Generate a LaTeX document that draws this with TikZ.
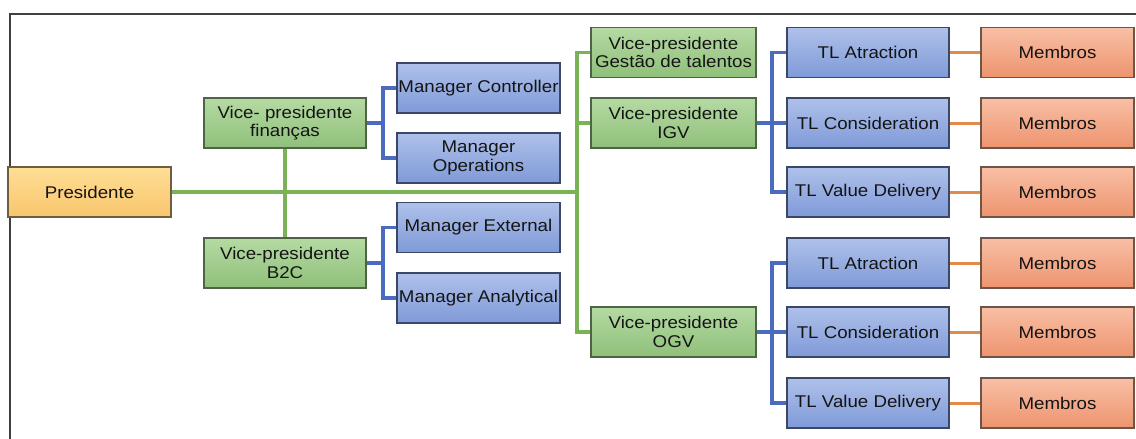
\documentclass[tikz,border=0pt]{standalone}
\usepackage{fontspec}
\setmainfont{Liberation Sans}[FakeStretch=1.1]
\definecolor{gfillT}{HTML}{B5DAA3}
\definecolor{gfillB}{HTML}{8FC07A}
\definecolor{gdraw}{HTML}{4E6545}
\definecolor{bfillT}{HTML}{AFC1EA}
\definecolor{bfillB}{HTML}{7F9AD8}
\definecolor{bdraw}{HTML}{3A4766}
\definecolor{ofillT}{HTML}{F8BFA5}
\definecolor{ofillB}{HTML}{EE946E}
\definecolor{odraw}{HTML}{6E5548}
\definecolor{pfillT}{HTML}{FFDE96}
\definecolor{pfillB}{HTML}{F8C66C}
\definecolor{pdraw}{HTML}{6E5E40}
\definecolor{gline}{HTML}{7AB356}
\definecolor{bline}{HTML}{4A6BC0}
\definecolor{oline}{HTML}{E28A48}
\definecolor{frame}{HTML}{404040}
\tikzset{
  box/.style={rectangle, inner sep=0pt, align=center, text=black!92,
    font=\fontsize{17}{18.5}\selectfont, line width=1.2pt},
  presbox/.style={box, top color=pfillT, bottom color=pfillB, draw=pdraw,
    minimum width=163pt, minimum height=50pt},
  vpbox/.style={box, top color=gfillT, bottom color=gfillB, draw=gdraw,
    minimum height=50pt},
  mgrbox/.style={box, top color=bfillT, bottom color=bfillB, draw=bdraw,
    minimum width=163pt, minimum height=50pt},
  tlbox/.style={box, top color=bfillT, bottom color=bfillB, draw=bdraw,
    minimum width=162pt, minimum height=50pt},
  membox/.style={box, top color=ofillT, bottom color=ofillB, draw=odraw,
    minimum width=153pt, minimum height=50pt},
  gconn/.style={draw=gline, line width=3.2pt},
  bconn/.style={draw=bline, line width=3.2pt},
  bstub/.style={draw=bline, line width=4.5pt},
  oconn/.style={draw=oline, line width=3pt},
}
\begin{document}
\begin{tikzpicture}[x=1pt,y=-1pt]
\useasboundingbox (0,0) rectangle (1136,439);
\fill[white] (0,0) rectangle (1136,439);
% frame
\draw[frame, line width=1.8pt] (10,439) -- (10,14) -- (1136,14);

% trunk coordinates
\coordinate (gx) at (577,0);
\coordinate (bx1) at (383,0);
\coordinate (bx2) at (772,0);

% connectors first, boxes on top
\path (89.5,192) coordinate (presC);

% nodes
\node[presbox] (pres) at (89.5,192) {Presidente};
\node[vpbox, minimum width=162pt] (vpfin) at (285,123) {Vice- presidente\\finanças};
\node[vpbox, minimum width=162pt] (vpb2c) at (285,263) {Vice-presidente\\B2C};

\node[mgrbox] (mctrl) at (478.5,88) {Manager Controller};
\node[mgrbox] (mops) at (478.5,158) {Manager\\Operations};
\node[mgrbox] (mext) at (478.5,227.5) {Manager External};
\node[mgrbox] (mana) at (478.5,298) {Manager Analytical};

\node[vpbox, minimum width=165pt] (vpgt) at (673.5,52.5) {Vice-presidente\\Gestão de talentos};
\node[vpbox, minimum width=165pt] (vpigv) at (673.5,123) {Vice-presidente\\IGV};
\node[vpbox, minimum width=165pt] (vpogv) at (673.5,332) {Vice-presidente\\OGV};

\node[tlbox] (tla1) at (868,52.5) {TL Atraction};
\node[tlbox] (tlc1) at (868,123) {TL Consideration};
\node[tlbox] (tlv1) at (868,192) {TL Value Delivery};
\node[tlbox] (tla2) at (868,263) {TL Atraction};
\node[tlbox] (tlc2) at (868,332) {TL Consideration};
\node[tlbox] (tlv2) at (868,403) {TL Value Delivery};

\node[membox] (m1) at (1057.5,52.5) {Membros};
\node[membox] (m2) at (1057.5,123) {Membros};
\node[membox] (m3) at (1057.5,192) {Membros};
\node[membox] (m4) at (1057.5,263) {Membros};
\node[membox] (m5) at (1057.5,332) {Membros};
\node[membox] (m6) at (1057.5,403) {Membros};

\draw[gconn] (pres.east) -- (pres.east -| gx);
\draw[gconn] (vpfin.south) -- (vpb2c.north);
\draw[gconn] (vpgt.west) -- (vpgt.west -| gx) |- (vpogv.west);
\draw[gconn] (vpigv.west) -- (vpigv.west -| gx);

\draw[bstub] (vpfin.east) -- (vpfin.east -| bx1);
\draw[bconn] (mctrl.west) -- (mctrl.west -| bx1) |- (mops.west);
\draw[bstub] (vpb2c.east) -- (vpb2c.east -| bx1);
\draw[bconn] (mext.west) -- (mext.west -| bx1) |- (mana.west);

\draw[bconn] (vpigv.east) -- (vpigv.east -| bx2);
\draw[bconn] (tla1.west) -- (tla1.west -| bx2) |- (tlv1.west);
\draw[bconn] (tlc1.west) -- (tlc1.west -| bx2);
\draw[bconn] (vpogv.east) -- (vpogv.east -| bx2);
\draw[bconn] (tla2.west) -- (tla2.west -| bx2) |- (tlv2.west);
\draw[bconn] (tlc2.west) -- (tlc2.west -| bx2);

\draw[oconn] (tla1.east) -- (m1.west);
\draw[oconn] (tlc1.east) -- (m2.west);
\draw[oconn] (tlv1.east) -- (m3.west);
\draw[oconn] (tla2.east) -- (m4.west);
\draw[oconn] (tlc2.east) -- (m5.west);
\draw[oconn] (tlv2.east) -- (m6.west);
\end{tikzpicture}
\end{document}
